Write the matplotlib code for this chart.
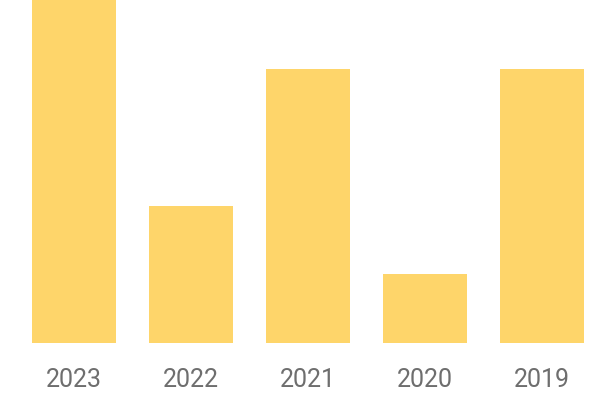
import matplotlib

matplotlib.use("Agg")

import matplotlib.pyplot as plt

years = ["2023", "2022", "2021", "2020", "2019"]
values = [5, 2, 4, 1, 4]

BAR_COLOR = "#FED56A"
TEXT_COLOR = "#6E6E6E"

fig = plt.figure(figsize=(6, 4), dpi=100)
ax = fig.add_axes([32 / 600, 57 / 400, 552 / 600, 343 / 400])

x = list(range(len(years)))
ax.bar(x, values, width=0.718, color=BAR_COLOR)

ax.set_xlim(-0.359, len(years) - 1 + 0.359)
ax.set_ylim(0, 5)
ax.set_xticks(x)
ax.set_xticklabels(years, fontsize=18, color=TEXT_COLOR, family=["Roboto", "DejaVu Sans"])
ax.tick_params(axis="x", length=0, pad=18)
ax.set_yticks([])
for spine in ax.spines.values():
    spine.set_visible(False)

fig.savefig("out.png", dpi=100)
